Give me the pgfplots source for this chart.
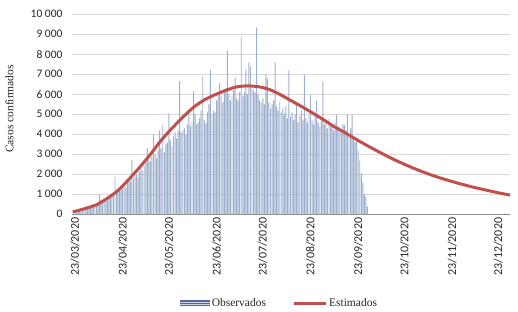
\documentclass[border=0pt]{standalone}
\usepackage{pgfplots}
\pgfplotsset{compat=1.18}
\usepackage{fontspec}
\setmainfont{Liberation Serif}
\newfontfamily\tickfont{Carlito}
\definecolor{estred}{HTML}{C0504D}
\definecolor{gridgray}{HTML}{D9D9D9}
\definecolor{axgray}{HTML}{8C8C8C}
\definecolor{barfill}{HTML}{9DAFCC}
\definecolor{legbar}{HTML}{4F6C98}
\definecolor{txt}{HTML}{262626}
\begin{document}
\begin{tikzpicture}
\useasboundingbox (-72pt,-96.7pt) rectangle (446pt,214.3pt);
\begin{axis}[
  scale only axis, width=438pt, height=200pt,
  at={(0pt,0pt)}, anchor=south west,
  xmin=-1.95, xmax=282.6, ymin=0, ymax=10000,
  scaled y ticks=false,
  axis y line*=left, axis x line*=bottom,
  y axis line style={draw=none},
  x axis line style={draw=axgray, line width=1.1pt},
  xtick={0,31,61,92,122,153,184,214,245,275},
  xticklabels={23/03/2020,23/04/2020,23/05/2020,23/06/2020,23/07/2020,23/08/2020,23/09/2020,23/10/2020,23/11/2020,23/12/2020},
  xtick style={draw=none},
  xticklabel style={rotate=90, anchor=east, font=\tickfont\fontsize{12}{13}\selectfont, text=txt},
  ytick={0,1000,...,10000},
  yticklabels={0,1~000,2~000,3~000,4~000,5~000,6~000,7~000,8~000,9~000,10~000},
  ytick style={draw=none},
  yticklabel style={font=\tickfont\fontsize{11.5}{12}\selectfont, text=txt, xshift=-6pt},
  ymajorgrids, grid style={gridgray, line width=0.6pt},
  ylabel={Casos confirmados},
  ylabel style={at={(axis description cs:-0.1427,0.5265)}, anchor=center, font=\fontsize{11.5}{13}\selectfont, text=txt},
  legend style={at={(axis description cs:0.473,-0.4435)}, anchor=center, draw=none, fill=none,
    legend columns=2, font=\fontsize{11.5}{13}\selectfont, text=txt,
    /tikz/every even column/.append style={column sep=24pt}},
  clip=true,
]
\addplot[ybar, bar width=0.95pt, bar shift=0pt, fill=barfill, draw=none,
  legend image code/.code={\fill[legbar] (0pt,-3pt) rectangle (30pt,3pt);
    \draw[white!70!legbar, line width=0.4pt] (0pt,-1pt) -- (30pt,-1pt) (0pt,1pt) -- (30pt,1pt);}]
coordinates {
(0,180)(1,120)(2,200)(3,250)(4,150)(5,300)(6,280)(7,230)(8,350)(9,320)
(10,400)(11,380)(12,500)(13,450)(14,420)(15,600)(16,1000)(17,700)(18,650)(19,750)
(20,820)(21,700)(22,900)(23,980)(24,850)(25,1100)(26,1880)(27,1150)(28,1200)(29,1300)
(30,1250)(31,1400)(32,1500)(33,1350)(34,1600)(35,1700)(36,1650)(37,2720)(38,1800)(39,1900)
(40,2000)(41,1850)(42,2150)(43,2300)(44,2200)(45,2450)(46,2600)(47,3300)(48,2700)(49,2650)
(50,2900)(51,4000)(52,3000)(53,2800)(54,3200)(55,4200)(56,3300)(57,4460)(58,3100)(59,3500)
(60,3600)(61,5050)(62,3700)(63,3400)(64,3900)(65,4100)(66,3800)(67,4200)(68,6660)(69,4100)
(70,4200)(71,4300)(72,4000)(73,4500)(74,5200)(75,4400)(76,4600)(77,6150)(78,5000)(79,4500)
(80,4600)(81,4800)(82,5200)(83,6910)(84,4700)(85,4550)(86,5100)(87,5500)(88,7210)(89,5000)
(90,5200)(91,5100)(92,5700)(93,6000)(94,6550)(95,5900)(96,5600)(97,6100)(98,6300)(99,8200)
(100,6000)(101,5700)(102,5900)(103,6200)(104,6850)(105,5800)(106,5700)(107,6100)(108,8870)(109,5900)
(110,6100)(111,7250)(112,6000)(113,7600)(114,7380)(115,6300)(116,6200)(117,6100)(118,9350)(119,6000)
(120,5700)(121,5600)(122,5800)(123,5500)(124,7000)(125,6800)(126,5600)(127,5300)(128,5500)(129,5700)
(130,7600)(131,5400)(132,5200)(133,5600)(134,5100)(135,5300)(136,5000)(137,5400)(138,4800)(139,7200)
(140,4900)(141,5100)(142,4700)(143,5000)(144,5500)(145,4600)(146,4900)(147,5200)(148,4700)(149,6960)
(150,4800)(151,4600)(152,5000)(153,5970)(154,4700)(155,4500)(156,4900)(157,5700)(158,4600)(159,4400)
(160,4700)(161,6630)(162,4500)(163,4600)(164,4300)(165,4800)(166,4400)(167,4500)(168,4200)(169,4600)
(170,4970)(171,4300)(172,4400)(173,4100)(174,4500)(175,4470)(176,4200)(177,5000)(178,4000)(179,4300)
(180,4970)(181,3900)(182,3600)(183,3800)(184,3200)(185,2700)(186,2050)(187,1600)(188,1000)(189,880)
(190,400)
};
\addlegendentry{Observados}
\addplot[estred, line width=3pt, smooth, tension=0.5,
  legend image code/.code={\draw[estred, line width=3pt] (0pt,0pt) -- (32pt,0pt);}]
coordinates {
(-1.5,130)(0,150)(7,300)(14,480)(21,800)(28,1200)(35,1750)(42,2350)(49,3000)(56,3700)
(63,4300)(70,4850)(77,5350)(84,5720)(91,5980)(98,6200)(105,6370)(112,6420)(119,6380)
(126,6250)(133,6000)(140,5700)(147,5400)(154,5080)(161,4750)(168,4400)(175,4100)
(182,3780)(189,3470)(196,3180)(203,2900)(210,2640)(217,2400)(224,2180)(231,1980)
(238,1800)(245,1640)(252,1490)(259,1350)(266,1230)(273,1110)(280,1000)(283,960)
};
\addlegendentry{Estimados}
\end{axis}
\end{tikzpicture}
\end{document}
